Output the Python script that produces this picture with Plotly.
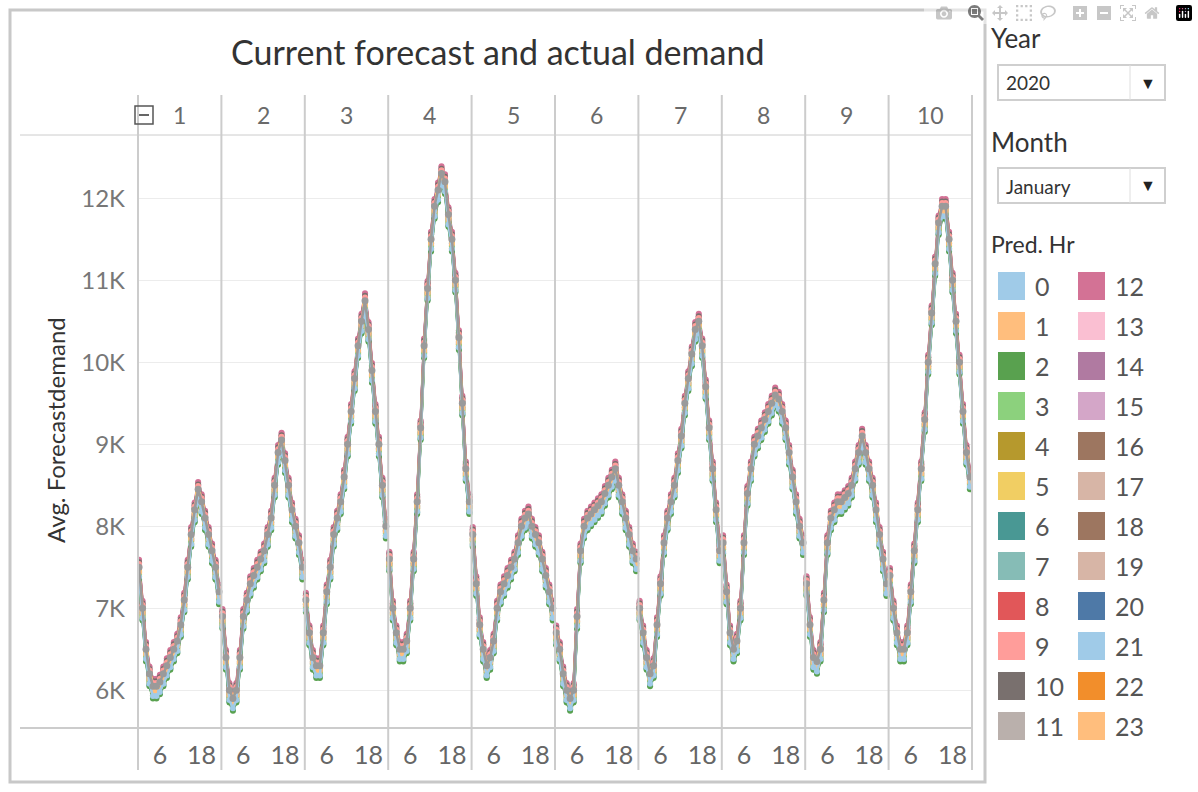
import plotly.graph_objects as go

days = [1, 2, 3, 4, 5, 6, 7, 8, 9, 10]
hours = list(range(24))
actual_d1 = [7500,7000,6500,6200,6050,6050,6100,6200,6300,6400,6500,6600,6800,7100,7500,7900,8200,8450,8300,8100,7900,7700,7500,7200]
actual_d2 = [6900,6400,6000,5900,6000,6400,6900,7100,7300,7400,7500,7600,7700,7900,8100,8500,8900,9050,8800,8500,8200,8000,7800,7500]
actual_d3 = [7100,6700,6400,6300,6300,6700,7200,7500,7900,8100,8300,8600,9000,9400,9800,10200,10500,10750,10400,9900,9400,9000,8500,8000]
actual_d4 = [7600,7000,6700,6500,6500,6600,7000,7600,8300,9200,10200,10900,11500,11900,12100,12300,12200,11800,11500,11000,10300,9500,8700,8300]
actual_d5 = [7900,7300,6800,6500,6300,6400,6600,7000,7200,7300,7400,7500,7600,7800,8000,8100,8150,8000,7900,7800,7600,7400,7200,7000]
actual_d6 = [6700,6500,6200,6000,5900,6000,6900,7700,8000,8100,8150,8200,8250,8300,8400,8500,8600,8700,8500,8300,8100,7900,7700,7600]
actual_d7 = [7000,6700,6400,6200,6300,6800,7300,7800,8100,8300,8500,8800,9100,9500,9800,10100,10400,10500,10200,9700,9200,8700,8200,7700]
actual_d8 = [7800,7200,6700,6500,6600,7000,7800,8400,8700,9000,9100,9200,9300,9400,9500,9600,9550,9400,9200,8900,8600,8300,8000,7800]
actual_d9 = [7300,6800,6400,6350,6500,7100,7800,8100,8200,8300,8300,8350,8400,8500,8700,8900,9100,8900,8700,8500,8200,7900,7600,7300]
actual_d10 = [7400,7000,6700,6500,6500,6700,7200,7700,8200,8700,9300,10000,10600,11200,11700,11900,11900,11500,11000,10500,10000,9400,8900,8600]
actual = [actual_d1, actual_d2, actual_d3, actual_d4, actual_d5, actual_d6, actual_d7, actual_d8, actual_d9, actual_d10]

pred_hours = list(range(24))
pred_bias = [-120, -60, -150, -90, -110, -40, -130, -70, -20, 40, 60, 30, 90, 70, 50, 80, 20, 60, 10, 30, -50, -140, -80, -60]
colors = ["#a0cbe8","#ffbe7d","#59a14f","#8cd17d","#b6992d","#f1ce63","#499894","#86bcb6",
          "#e15759","#ff9d9a","#79706e","#bab0ac","#d37295","#fabfd2","#b07aa1","#d4a6c8",
          "#9d7660","#d7b5a6","#9d7660","#d7b5a6","#4e79a7","#a0cbe8","#f28e2b","#ffbe7d"]
ytick_vals = [6000, 7000, 8000, 9000, 10000, 11000, 12000]
ytick_text = ["6K", "7K", "8K", "9K", "10K", "11K", "12K"]

X = []
for i, d in enumerate(days):
    X += [i * 24 + h for h in hours] + [None]

fig = go.Figure()
for p in reversed(pred_hours):
    ys = []
    for dvals in actual:
        ys += [v + pred_bias[p] for v in dvals] + [None]
    fig.add_trace(go.Scatter(x=X, y=ys, mode="lines+markers", line=dict(color=colors[p], width=2.5),
                             marker=dict(size=6, color=colors[p]), showlegend=False, hoverinfo="skip"))
ya = []
for dvals in actual:
    ya += dvals + [None]
fig.add_trace(go.Scatter(x=X, y=ya, mode="lines+markers", line=dict(color="#9a9a9a", width=2.5),
                         marker=dict(size=7, color="#9a9a9a"), showlegend=False))

W, H = 1198, 792
def px(x): return x / W
def py(y): return 1 - y / H

def text(x, y, t, size, color="#333", xanchor="center", angle=0):
    return dict(x=px(x), y=py(y), xref="paper", yref="paper", text=t, showarrow=False,
                xanchor=xanchor, yanchor="middle", textangle=angle, font=dict(size=size, color=color))

xl, xr, yt, yb = 138, 972, 135, 728
shapes, ann = [], []
GRID = "#cccccc"
shapes.append(dict(type="rect", xref="paper", yref="paper", x0=px(10), x1=px(985), y0=py(782), y1=py(10),
                   line=dict(color="#c8c8c8", width=3)))
shapes.append(dict(type="line", xref="paper", yref="paper", x0=px(20), x1=px(xr), y0=py(yt), y1=py(yt), line=dict(color=GRID, width=1)))
shapes.append(dict(type="line", xref="paper", yref="paper", x0=px(20), x1=px(xr), y0=py(yb), y1=py(yb), line=dict(color=GRID, width=2)))
pw = (xr - xl) / 10
for i in range(11):
    xx = xl + i * pw
    shapes.append(dict(type="line", xref="paper", yref="paper", x0=px(xx), x1=px(xx), y0=py(770), y1=py(95),
                       line=dict(color=GRID, width=2)))
for i, d in enumerate(days):
    ann.append(text(xl + (i + 0.5) * pw, 115, str(d), 23, "#6a6a6a"))
shapes.append(dict(type="rect", xref="paper", yref="paper", x0=px(135), x1=px(153), y0=py(124), y1=py(106),
                   line=dict(color="#555", width=1.5)))
shapes.append(dict(type="line", xref="paper", yref="paper", x0=px(139), x1=px(149), y0=py(115), y1=py(115),
                   line=dict(color="#333", width=1.5)))
ann.append(text(497, 52, "Current forecast and actual demand", 34, "#333"))
ann.append(text(55, 430, "Avg. Forecastdemand", 24, "#333", angle=-90))

for label, val, ty, by in [("Year", "2020", 38, 65), ("Month", "January", 142, 168)]:
    ann.append(text(989, ty, label, 26, "#333", "left"))
    shapes.append(dict(type="rect", xref="paper", yref="paper", x0=px(998), x1=px(1165), y0=py(by + 35), y1=py(by),
                       line=dict(color="#cfcfcf", width=2)))
    shapes.append(dict(type="line", xref="paper", yref="paper", x0=px(1130), x1=px(1130), y0=py(by + 35), y1=py(by),
                       line=dict(color="#dedede", width=1)))
    ann.append(text(1004, by + 18, val, 19, "#333", "left"))
    ann.append(text(1148, by + 17, "▼", 16, "#222"))
ann.append(text(989, 244, "Pred. Hr", 23, "#333", "left"))
for p in pred_hours:
    col, row = divmod(p, 12)
    x0 = 998 + col * 80
    yc = 286 + row * 40
    shapes.append(dict(type="rect", xref="paper", yref="paper", x0=px(x0), x1=px(x0 + 27), y0=py(yc + 14), y1=py(yc - 14),
                       fillcolor=colors[p], line=dict(width=0)))
    ann.append(text(x0 + 35, yc, str(p), 25, "#555", "left"))

tv, tt = [], []
for i in range(len(days)):
    tv += [i * 24 + 6, i * 24 + 18]
    tt += ["6", "18"]

fig.update_layout(
    width=W, height=H, margin=dict(l=0, r=0, t=0, b=0), paper_bgcolor="white", plot_bgcolor="white",
    font=dict(family="Lato, Open Sans, sans-serif"),
    xaxis=dict(domain=[px(xl), px(xr)], range=[-0.3, 239.6], tickvals=tv, ticktext=tt, showgrid=False,
               zeroline=False, ticks="", tickfont=dict(size=25, color="#666"), ticklabelstandoff=10),
    yaxis=dict(domain=[py(yb), py(yt)], range=[5540, 12770], tickvals=ytick_vals, ticktext=ytick_text,
               gridcolor="#ececec", zeroline=False, ticks="", tickfont=dict(size=24, color="#777"), ticklabelstandoff=12),
    shapes=shapes, annotations=ann,
)
fig.write_html("out.html", post_script="document.body.style.margin='0';document.body.style.overflow='hidden';")
